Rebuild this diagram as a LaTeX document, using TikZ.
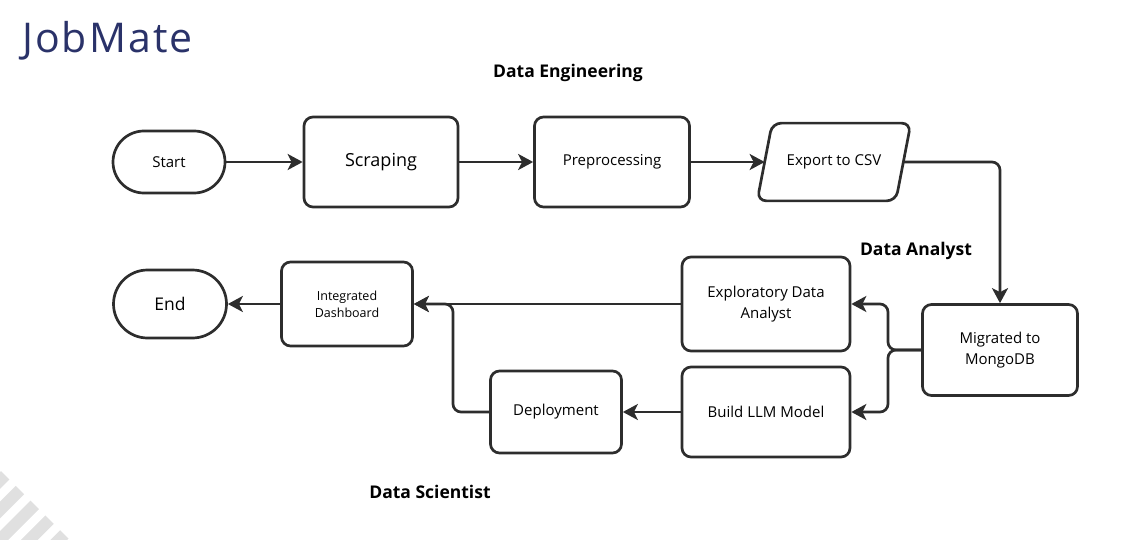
\documentclass[tikz,border=0pt]{standalone}
\usepackage{fontspec}
\setmainfont{Open Sans}
\usetikzlibrary{arrows.meta}
\definecolor{navy}{RGB}{42,50,105}
\definecolor{ink}{RGB}{45,45,45}
\definecolor{stripe}{RGB}{224,224,224}
\tikzset{
  box/.style={draw=ink,line width=2.7pt,rounded corners=9pt,align=center,inner sep=0pt,font=\fontsize{15}{21}\selectfont},
  term/.style={box,rounded corners=31pt},
  flow/.style={draw=ink,line width=2.7pt,rounded corners=8pt,-{Stealth[length=15pt,width=16pt,inset=4pt]}},
  lane/.style={font=\fontsize{17.5}{20}\selectfont\bfseries}
}
\begin{document}
\begin{tikzpicture}[x=1pt,y=-1pt]
  \useasboundingbox (0,0) rectangle (1126,540);
  % corner stripes
  \begin{scope}
    \clip (0,0) rectangle (1126,540);
    \foreach \k in {-1,...,3}{
      \pgfmathsetmacro\ex{20+14.8*\k}
      \pgfmathsetmacro\ey{490+14.8*\k}
      \fill[stripe] (\ex-4.2,\ey-4.2) -- (\ex+4.2,\ey+4.2) -- (\ex+4.2-90,\ey+4.2+90) -- (\ex-4.2-90,\ey-4.2+90) -- cycle;
    }
  \end{scope}
  \node[anchor=base west,inner sep=0pt,text=navy,font=\fontsize{41}{41}\selectfont\addfontfeature{LetterSpace=5}] (title) at (22,53) {JobMate};
  % lanes
  \node[lane] (eng) at (568,73) {Data Engineering};
  \node[lane] (ana) at (916,251) {Data Analyst};
  \node[lane] (sci) at (430,492) {Data Scientist};
  % steps
  \node[term,minimum width=112pt,minimum height=62pt] (start) at (169,162) {Start};
  \node[box,minimum width=154pt,minimum height=90pt,font=\fontsize{18}{22}\selectfont] (scrap) at (381,162) {Scraping};
  \node[box,minimum width=155pt,minimum height=90pt] (prep) at (612,162) {Preprocessing};
  \node[box,draw=none,minimum width=151pt,minimum height=75pt] (csv) at (834,162) {Export to CSV};
  \draw[ink,line width=2.7pt,rounded corners=9pt] ([xshift=15pt]csv.north west) -- (csv.north east)
    -- ([xshift=-15pt]csv.south east) -- (csv.south west) -- cycle;
  \node[box,minimum width=155pt,minimum height=91pt] (mongo) at (1000,350) {Migrated to\\MongoDB};
  \node[box,minimum width=168pt,minimum height=94pt] (eda) at (766,304) {Exploratory Data\\Analyst};
  \node[box,minimum width=168pt,minimum height=90pt] (llm) at (766,412) {Build LLM Model};
  \node[box,minimum width=131pt,minimum height=82pt] (deploy) at (556,412) {Deployment};
  \node[box,minimum width=131pt,minimum height=84pt,font=\fontsize{12.5}{17}\selectfont] (dash) at (347,304) {Integrated\\Dashboard};
  \node[term,minimum width=113pt,minimum height=68pt,rounded corners=34pt,font=\fontsize{17.5}{20}\selectfont] (end) at (170,304) {End};
  % connectors
  \coordinate (split) at (888,350);
  \coordinate (merge) at (453,304);
  \draw[flow] (start) -- (scrap);
  \draw[flow] (scrap) -- (prep);
  \draw[flow] (prep) -- ([xshift=7.5pt]csv.west);
  \draw[flow] ([xshift=-7.5pt]csv.east) -| (mongo.north);
  \draw[flow] (mongo.west) -- (split) |- (eda.east);
  \draw[flow] (mongo.west) -- (split) |- (llm.east);
  \draw[flow] (eda) -- (dash);
  \draw[flow] (llm) -- (deploy);
  \draw[flow] (deploy.west) -| (merge) -- (dash.east);
  \draw[flow] (dash) -- (end);
\end{tikzpicture}
\end{document}
